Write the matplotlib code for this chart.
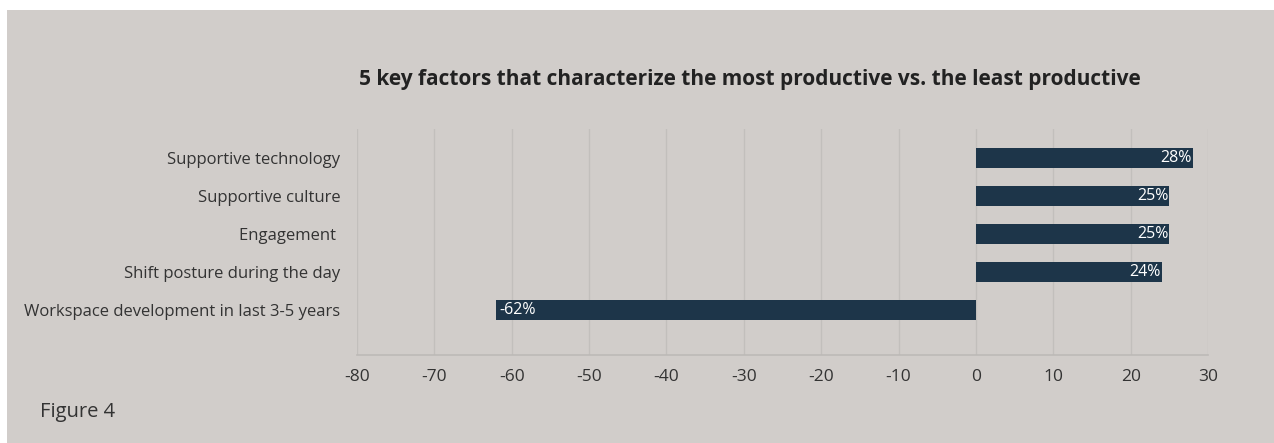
import matplotlib
matplotlib.use("Agg")
import matplotlib.pyplot as plt
from matplotlib.patches import Rectangle

categories = ["Workspace development in last 3-5 years", "Shift posture during the day",
              "Engagement ", "Supportive culture", "Supportive technology"]
values = [-62, 24, 25, 25, 28]
labels = ["-62%", "24%", "25%", "25%", "28%"]
xticks = list(range(-80, 31, 10))

BG = "#d1cdca"
BAR = "#1d3549"
FONT = ["Open Sans", "DejaVu Sans"]
plt.rcParams['font.family'] = FONT

W, H = 1274, 443
fig = plt.figure(figsize=(W/100, H/100), dpi=100)
fig.patch.set_facecolor("white")
fig.patches.append(Rectangle((7/W, 0), 1 - 7/W, 1 - 10/H, transform=fig.transFigure,
                             facecolor=BG, edgecolor="none", zorder=-5))

ax = fig.add_axes([357/W, 1 - 355/H, (1208-357)/W, (355-129)/H])
ax.set_zorder(2)
ax.set_facecolor(BG)
ax.patch.set_alpha(0)

ys = list(range(len(categories)))
ax.barh(ys, values, height=0.53, color=BAR, zorder=3)
for y, v, l in zip(ys, values, labels):
    if v >= 0:
        ax.text(v - 0.1, y, l, ha="right", va="center", color="white", fontsize=11.5, zorder=4)
    else:
        ax.text(v + 0.4, y, l, ha="left", va="center", color="white", fontsize=11.5, zorder=4)

ax.set_xlim(-80, 30)
ax.set_ylim(-1.18, 4.76)
ax.set_xticks(xticks)
ax.set_xticklabels([str(t) for t in xticks], fontsize=12.5, color="#333333")
ax.set_yticks(ys)
ax.set_yticklabels(categories, fontsize=12, color="#333333")
ax.tick_params(axis="both", length=0)
ax.tick_params(axis="y", pad=12)
ax.tick_params(axis="x", pad=10)
ax.grid(axis="x", color="#c2bfbc", linewidth=1, zorder=0)
for s in ["top", "right", "left"]:
    ax.spines[s].set_visible(False)
ax.spines["bottom"].set_color("#bdbab7")
ax.spines["bottom"].set_linewidth(1.2)

fig.text(750/W, 1 - 79/H, "5 key factors that characterize the most productive vs. the least productive",
         ha="center", va="center", fontsize=15, fontweight="bold", color="#222222")
fig.text(40/W, 1 - 412/H, "Figure 4", ha="left", va="center", fontsize=14.5, color="#333333")

fig.savefig("out.png", dpi=100, facecolor=fig.get_facecolor())
